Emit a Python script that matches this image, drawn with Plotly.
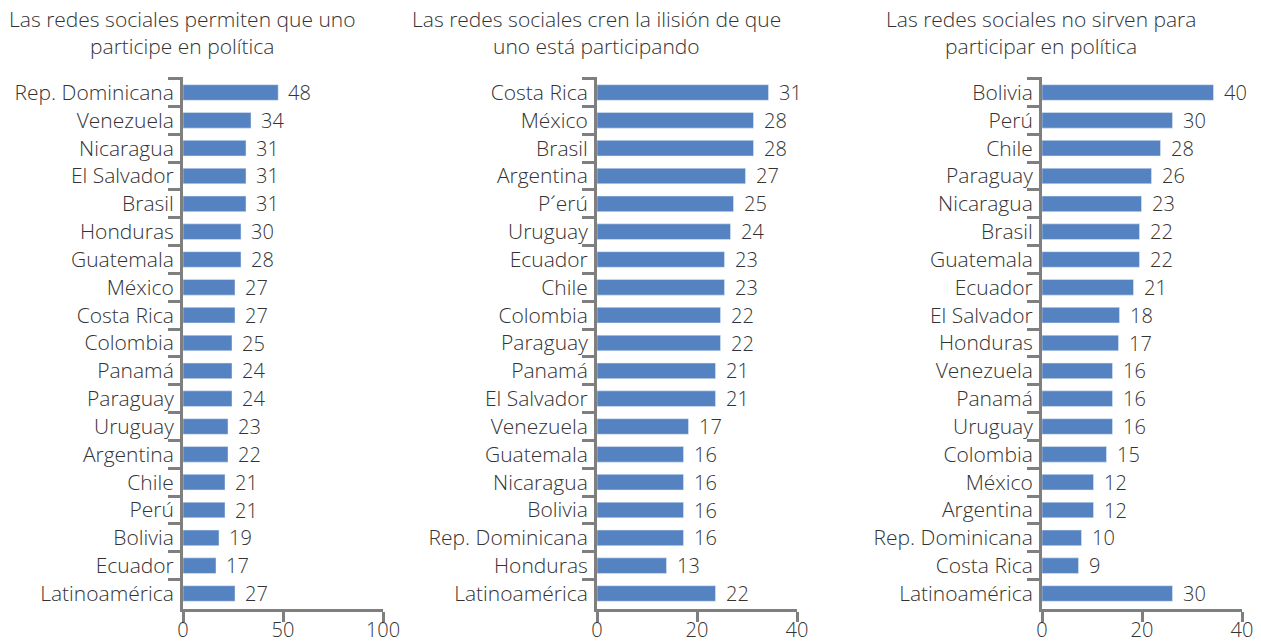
import plotly.graph_objects as go

# ---- data ----
titles = [
    ["Las redes sociales permiten que uno", "participe en política"],
    ["Las redes sociales cren la ilisión de que", "uno está participando"],
    ["Las redes sociales no sirven para", "participar en política"],
]

cats1 = ["Rep. Dominicana", "Venezuela", "Nicaragua", "El Salvador", "Brasil", "Honduras",
         "Guatemala", "México", "Costa Rica", "Colombia", "Panamá", "Paraguay", "Uruguay",
         "Argentina", "Chile", "Perú", "Bolivia", "Ecuador", "Latinoamérica"]
labels1 = [48, 34, 31, 31, 31, 30, 28, 27, 27, 25, 24, 24, 23, 22, 21, 21, 19, 17, 27]
bars1 = [47.6, 34, 31.5, 31.5, 31.5, 29, 29, 26, 26, 24.5, 24.5, 24.5, 22.5, 22.5,
         21, 21, 18, 16.5, 26]

cats2 = ["Costa Rica", "México", "Brasil", "Argentina", "P´erú", "Uruguay", "Ecuador",
         "Chile", "Colombia", "Paraguay", "Panamá", "El Salvador", "Venezuela", "Guatemala",
         "Nicaragua", "Bolivia", "Rep. Dominicana", "Honduras", "Latinoamérica"]
labels2 = [31, 28, 28, 27, 25, 24, 23, 23, 22, 22, 21, 21, 17, 16, 16, 16, 16, 13, 22]
bars2 = [34.3, 31.3, 31.3, 29.7, 27.3, 26.7, 25.5, 25.5, 24.7, 24.7, 23.7, 23.7, 18.3,
         17.3, 17.3, 17.3, 17.3, 13.9, 23.7]

cats3 = ["Bolivia", "Perú", "Chile", "Paraguay", "Nicaragua", "Brasil", "Guatemala",
         "Ecuador", "El Salvador", "Honduras", "Venezuela", "Panamá", "Uruguay", "Colombia",
         "México", "Argentina", "Rep. Dominicana", "Costa Rica", "Latinoamérica"]
labels3 = [40, 30, 28, 26, 23, 22, 22, 21, 18, 17, 16, 16, 16, 15, 12, 12, 10, 9, 30]
bars3 = [34.3, 26.1, 23.7, 21.9, 19.9, 19.5, 19.5, 18.3, 15.5, 15.3, 14.1, 14.1, 14.1,
         12.9, 10.3, 10.3, 7.9, 7.3, 26.1]

x_ranges = [[0, 100], [0, 40], [0, 40]]
x_ticks = [[0, 50, 100], [0, 20, 40], [0, 20, 40]]

# ---- style ----
W, H = 1261, 643
BAR = "#5583C1"
AXC = "#7F7F7F"
TXT = "#333333"
FONT = "Open Sans"
FW = 300
FS_TXT = 21
FS_NUM = 20
x_domains = [[183 / W, 383 / W], [597 / W, 797 / W], [1042 / W, 1242 / W]]
y_domain = [(H - 609) / H, (H - 77) / H]

panels = [(cats1, labels1, bars1), (cats2, labels2, bars2), (cats3, labels3, bars3)]

fig = go.Figure()
annotations = []
for i, (cats, labs, bars) in enumerate(panels):
    sfx = "" if i == 0 else str(i + 1)
    fig.add_trace(go.Bar(
        x=bars, y=cats, orientation="h", marker_color=BAR, width=0.56,
        xaxis="x" + sfx, yaxis="y" + sfx, showlegend=False, hoverinfo="skip",
    ))
    for c, l, b in zip(cats, labs, bars):
        annotations.append(dict(
            x=b, y=c, xref="x" + sfx, yref="y" + sfx, text=str(l), showarrow=False,
            xanchor="left", yanchor="middle", xshift=8,
            font=dict(family=FONT, size=FS_NUM, color=TXT, weight=FW),
        ))
    for j, line in enumerate(titles[i]):
        annotations.append(dict(
            x=x_domains[i][0] - 1 / W, y=1 - (19 + 27 * j) / H, xref="paper", yref="paper",
            text=line, showarrow=False, xanchor="center", yanchor="middle",
            font=dict(family=FONT, size=FS_TXT, color=TXT, weight=FW),
        ))
    fig.update_layout(**{
        "xaxis" + sfx: dict(
            domain=x_domains[i], range=x_ranges[i], tickvals=x_ticks[i],
            anchor="y" + sfx, showline=True, linecolor=AXC, linewidth=3,
            ticks="outside", ticklen=10, tickwidth=3, tickcolor=AXC,
            showgrid=False, zeroline=False, automargin=False, ticklabelstandoff=-9,
            tickfont=dict(family=FONT, size=FS_NUM, color=TXT, weight=FW),
        ),
        "yaxis" + sfx: dict(
            domain=y_domain, anchor="x" + sfx, type="category",
            categoryorder="array", categoryarray=cats, autorange="reversed",
            showline=True, linecolor=AXC, linewidth=3,
            ticks="outside", tickson="boundaries", ticklen=12, tickwidth=3, tickcolor=AXC,
            showgrid=False, zeroline=False, ticklabelstandoff=2, automargin=False,
            tickfont=dict(family=FONT, size=FS_TXT, color=TXT, weight=FW),
        ),
    })

fig.update_layout(
    width=W, height=H, margin=dict(l=0, r=0, t=0, b=0, pad=0, autoexpand=False),
    paper_bgcolor="white", plot_bgcolor="white",
    annotations=annotations, bargap=0.44,
    font=dict(family=FONT, size=FS_TXT, color=TXT),
)

fig.write_html(
    "out.html",
    post_script="document.body.style.margin='0';document.body.style.overflow='hidden';",
)
